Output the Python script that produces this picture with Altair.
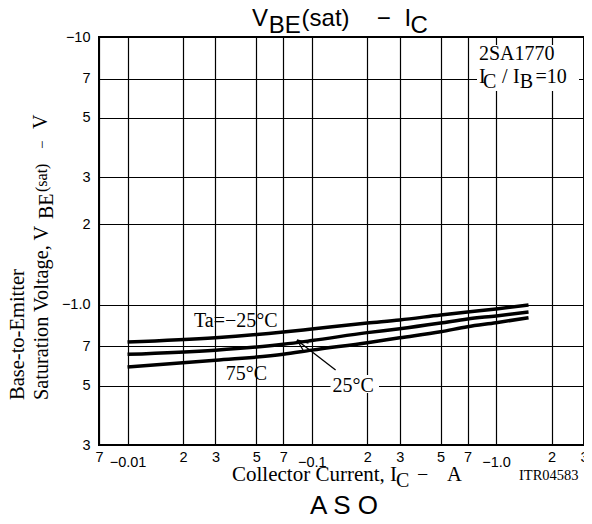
import json
import altair as alt
import pandas as pd

SERIF = "Liberation Serif"
SANS = "Liberation Sans"

# ---- data ----
ic = [0.01, 0.03, 0.07, 0.1, 0.2, 0.3, 0.5, 0.7, 1.0, 1.5]
vbe_m25 = [0.727, 0.754, 0.792, 0.813, 0.856, 0.879, 0.917, 0.941, 0.966, 1.0]
vbe_25 = [0.654, 0.678, 0.713, 0.736, 0.788, 0.815, 0.856, 0.886, 0.910, 0.941]
vbe_75 = [0.586, 0.621, 0.654, 0.678, 0.723, 0.754, 0.794, 0.829, 0.858, 0.896]
series_names = ["-25", "25", "75"]

x_ticks = [0.007, 0.01, 0.02, 0.03, 0.05, 0.07, 0.1, 0.2, 0.3, 0.5, 0.7, 1, 2, 3]
x_labels = ["7", "−0.01", "2", "3", "5", "7", "−0.1", "2", "3", "5", "7", "−1.0", "2", "3"]
x_decades = [0.01, 0.1, 1]
y_ticks = [0.3, 0.5, 0.7, 1, 2, 3, 5, 7, 10]
y_labels = ["3", "5", "7", "−1.0", "2", "3", "5", "7", "−10"]

rows = []
for name, vals in zip(series_names, [vbe_m25, vbe_25, vbe_75]):
    for a, v in zip(ic, vals):
        rows.append({"ic": a, "vbe": v, "ta": name})
df = pd.DataFrame(rows)

x_expr = f"{json.dumps(x_labels, ensure_ascii=False)}[indexof({json.dumps(x_ticks)}, datum.value)]"
y_expr = f"{json.dumps(y_labels, ensure_ascii=False)}[indexof({json.dumps(y_ticks)}, datum.value)]"
dec_test = f"indexof({json.dumps(x_decades)}, datum.value) >= 0"

lines = alt.Chart(df).mark_line(color="black", strokeWidth=3.5, interpolate="monotone").encode(
    x=alt.X("ic:Q",
            scale=alt.Scale(type="log", domain=[0.007, 3], nice=False),
            axis=alt.Axis(values=x_ticks, labelExpr=x_expr, title=None, grid=True,
                          ticks=False, tickSize=0, domain=False, labelFlush=False,
                          labelOverlap=False,
                          labelPadding={"condition": {"test": dec_test, "value": 10}, "value": 5})),
    y=alt.Y("vbe:Q",
            scale=alt.Scale(type="log", domain=[0.3, 10], nice=False),
            axis=alt.Axis(values=y_ticks, labelExpr=y_expr, title=None, grid=True,
                          ticks=False, tickSize=0, domain=False, labelFlush=False,
                          labelOverlap=False, labelPadding=9)),
    detail="ta:N",
)

one = pd.DataFrame({"t": [0]})


def txt(s, px, py, size=20, font=SERIF, align="left", angle=None, baseline="alphabetic"):
    kw = dict(font=font, fontSize=size, align=align, baseline=baseline, color="black")
    if angle is not None:
        kw["angle"] = angle
    return alt.Chart(pd.DataFrame({"t": [s]})).mark_text(**kw).encode(
        text="t:N", x=alt.value(px), y=alt.value(py))


def rect(x1, x2, y1, y2):
    return alt.Chart(one).mark_rect(color="white").encode(
        x=alt.value(x1), x2=alt.value(x2), y=alt.value(y1), y2=alt.value(y2))


def rule(x1, y1, x2, y2, w=1.3):
    return alt.Chart(one).mark_rule(color="black", strokeWidth=w).encode(
        x=alt.value(x1), y=alt.value(y1), x2=alt.value(x2), y2=alt.value(y2))


masks = [rect(378, 480, 8, 54), rect(231.5, 280, 338, 356)]
arrow = [rule(236.6, 333, 199, 304), rule(198, 303, 204, 313), rule(198, 303, 209.5, 306.2)]

texts = [
    # title
    txt("V", 153, -11, 24, SANS),
    txt("BE", 169.8, -4, 24, SANS),
    txt("(sat)", 202.6, -11, 24, SANS),
    txt("−", 277.8, -11, 24, SANS),
    txt("I", 305.4, -11, 24, SANS),
    txt("C", 311.5, -4, 24, SANS),
    # y title
    txt("Base-to-Emitter", -75, 363, 20.5, SERIF, angle=270),
    txt("Saturation Voltage, V", -51, 363, 20.3, SERIF, angle=270),
    txt("BE", -46, 182, 20, SERIF, angle=270),
    txt("(sat)", -52, 155, 16, SERIF, angle=270),
    txt("−", -52, 112, 15, SERIF, angle=270),
    txt("V", -52, 92, 20, SERIF, angle=270),
    # x title
    txt("Collector Current, I", 133, 444, 21, SERIF),
    txt("C", 297, 450, 20, SERIF),
    txt("−", 318, 444, 20, SERIF),
    txt("A", 348, 444, 20.5, SERIF),
    txt("ITR04583", 420, 443, 14.5, SERIF),
    txt("A S O", 245, 477, 26, SANS, align="center"),
    # in-plot labels
    txt("Ta=−25°C", 95, 289.5, 20, SERIF),
    txt("75°C", 126.7, 343, 20, SERIF),
    txt("25°C", 233.6, 354.6, 20, SERIF),
    txt("2SA1770", 380, 23, 20, SERIF),
    txt("I", 380, 46.3, 20, SERIF),
    txt("C", 384, 51.3, 20, SERIF),
    txt("/", 403, 46.3, 20, SERIF),
    txt("I", 414, 46.3, 20, SERIF),
    txt("B", 420.7, 51.3, 20, SERIF),
    txt("=10", 436.5, 46.3, 20, SERIF),
]

chart = alt.layer(*masks, lines, *arrow, *texts).properties(
    width=485,
    height=408,
    background="white",
    padding={"left": 91, "top": 29, "right": 0, "bottom": 70},
    autosize=alt.AutoSizeParams(type="none"),
).configure_view(stroke="black", strokeWidth=2).configure_axis(
    labelFont=SANS, labelFontSize=14.5, labelColor="black",
    gridColor="black", gridWidth=1.2, gridOpacity=1,
)

chart.save("out.html", embed_options={"renderer": "svg", "actions": False})
